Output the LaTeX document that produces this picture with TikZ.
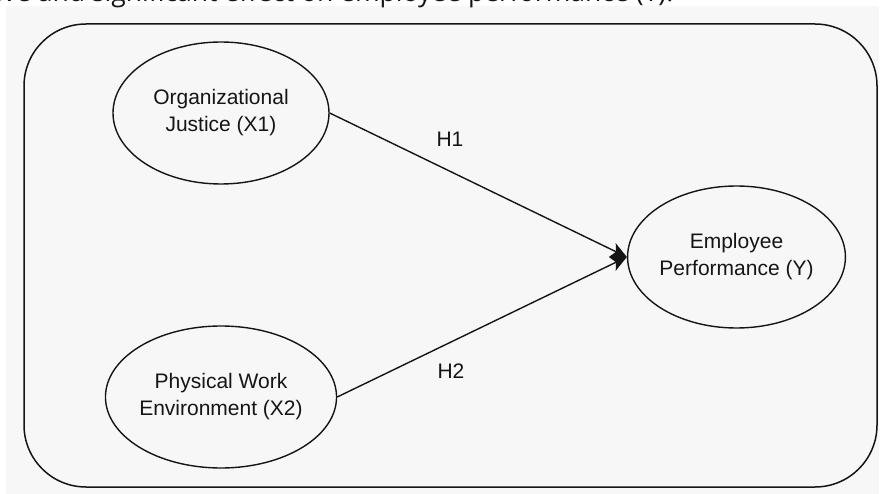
\documentclass[tikz,border=0pt]{standalone}
\usepackage{fontspec}
\setmainfont{Liberation Sans}
\newfontfamily\topfont{Open Sans}
\usetikzlibrary{shapes.geometric,arrows.meta}
\definecolor{bggray}{HTML}{F7F7F7}
\definecolor{inkc}{HTML}{151515}
\begin{document}
\begin{tikzpicture}[x=1pt,y=-1pt,
  latent/.style={ellipse,draw=inkc,line width=1.4pt,minimum width=216pt,minimum height=142pt,inner sep=0pt,align=center,font=\fontsize{21}{27}\selectfont,text=inkc},
  hlabel/.style={font=\fontsize{21}{25}\selectfont,text=inkc},
  path/.style={draw=inkc,line width=1.4pt,-{Stealth[length=16pt,width=15pt,inset=4pt]}}]
\useasboundingbox (0,0) rectangle (883,494);
\fill[white] (0,0) rectangle (883,494);
\fill[bggray] (6,6) rectangle (879,494);
\node[anchor=base west,inner sep=0pt,font=\topfont\fontsize{26.5}{30}\selectfont,text=inkc] (toptext) at (-4,2) {ive and significant effect on employee performance (Y).};
\draw[inkc,line width=1.5pt,rounded corners=62pt] (24,24) rectangle (877,487);
\node[latent] (x1) at (221,113) {Organizational\\Justice (X1)};
\node[latent] (x2) at (221,397) {Physical Work\\Environment (X2)};
\node[latent,minimum width=213pt] (y) at (736.5,257) {Employee\\Performance (Y)};
\draw[path] (x1.east) -- (y.west);
\draw[path] (x2.east) -- (y.west);
\node[hlabel] (h1) at (450,139) {H1};
\node[hlabel] (h2) at (451,371) {H2};
\end{tikzpicture}
\end{document}
